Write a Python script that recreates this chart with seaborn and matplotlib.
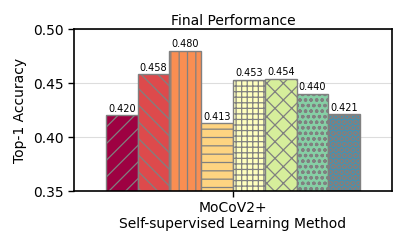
import numpy as np
import pandas as pd
import matplotlib
matplotlib.use("Agg")
import matplotlib.pyplot as plt
import seaborn as sns

# data
method = ["MoCoV2+"] * 8
variant = ["v1", "v2", "v3", "v4", "v5", "v6", "v7", "v8"]
accuracy = [0.420, 0.458, 0.480, 0.413, 0.453, 0.454, 0.440, 0.421]
hatches = ["//", "\\\\", "||", "--", "+++", "xx", "ooo", "OOO"]

df = pd.DataFrame({"Method": method, "Variant": variant, "Accuracy": accuracy})
colors = [plt.cm.Spectral(i / 8) for i in range(8)]

sns.set_style("white")
plt.rcParams["font.family"] = ["DejaVu Sans"]
plt.rcParams["hatch.linewidth"] = 0.9
plt.rcParams["text.color"] = "black"
plt.rcParams["axes.labelcolor"] = "black"
plt.rcParams["xtick.color"] = "black"
plt.rcParams["ytick.color"] = "black"

fig, ax = plt.subplots(figsize=(4.07, 2.44), dpi=100)
sns.barplot(data=df, x="Method", y="Accuracy", hue="Variant",
            palette=colors, saturation=1, edgecolor="gray", linewidth=1,
            legend=False, ax=ax)

for bar, h in zip(ax.patches, hatches):
    bar.set_hatch(h)
for c in ax.containers:
    ax.bar_label(c, fmt="%.3f", fontsize=7, padding=1, color="black")

ax.set_ylim(0.35, 0.50)
ax.set_yticks([0.35, 0.40, 0.45, 0.50])
ax.yaxis.grid(True, color="#dddddd", linewidth=0.8)
ax.set_axisbelow(True)
for s in ax.spines.values():
    s.set_color("black")
    s.set_linewidth(1.2)
ax.tick_params(axis="both", length=4, width=1, labelsize=10, bottom=True, left=True,
               colors="black")
ax.set_title("Final Performance", fontsize=10, pad=3, color="black")
ax.set_ylabel("Top-1 Accuracy", fontsize=10, color="black")
ax.set_xlabel("Self-supervised Learning Method", fontsize=10, labelpad=1, color="black")

fig.subplots_adjust(left=0.182, right=0.963, top=0.881, bottom=0.217)
fig.savefig("out.png", dpi=100)
